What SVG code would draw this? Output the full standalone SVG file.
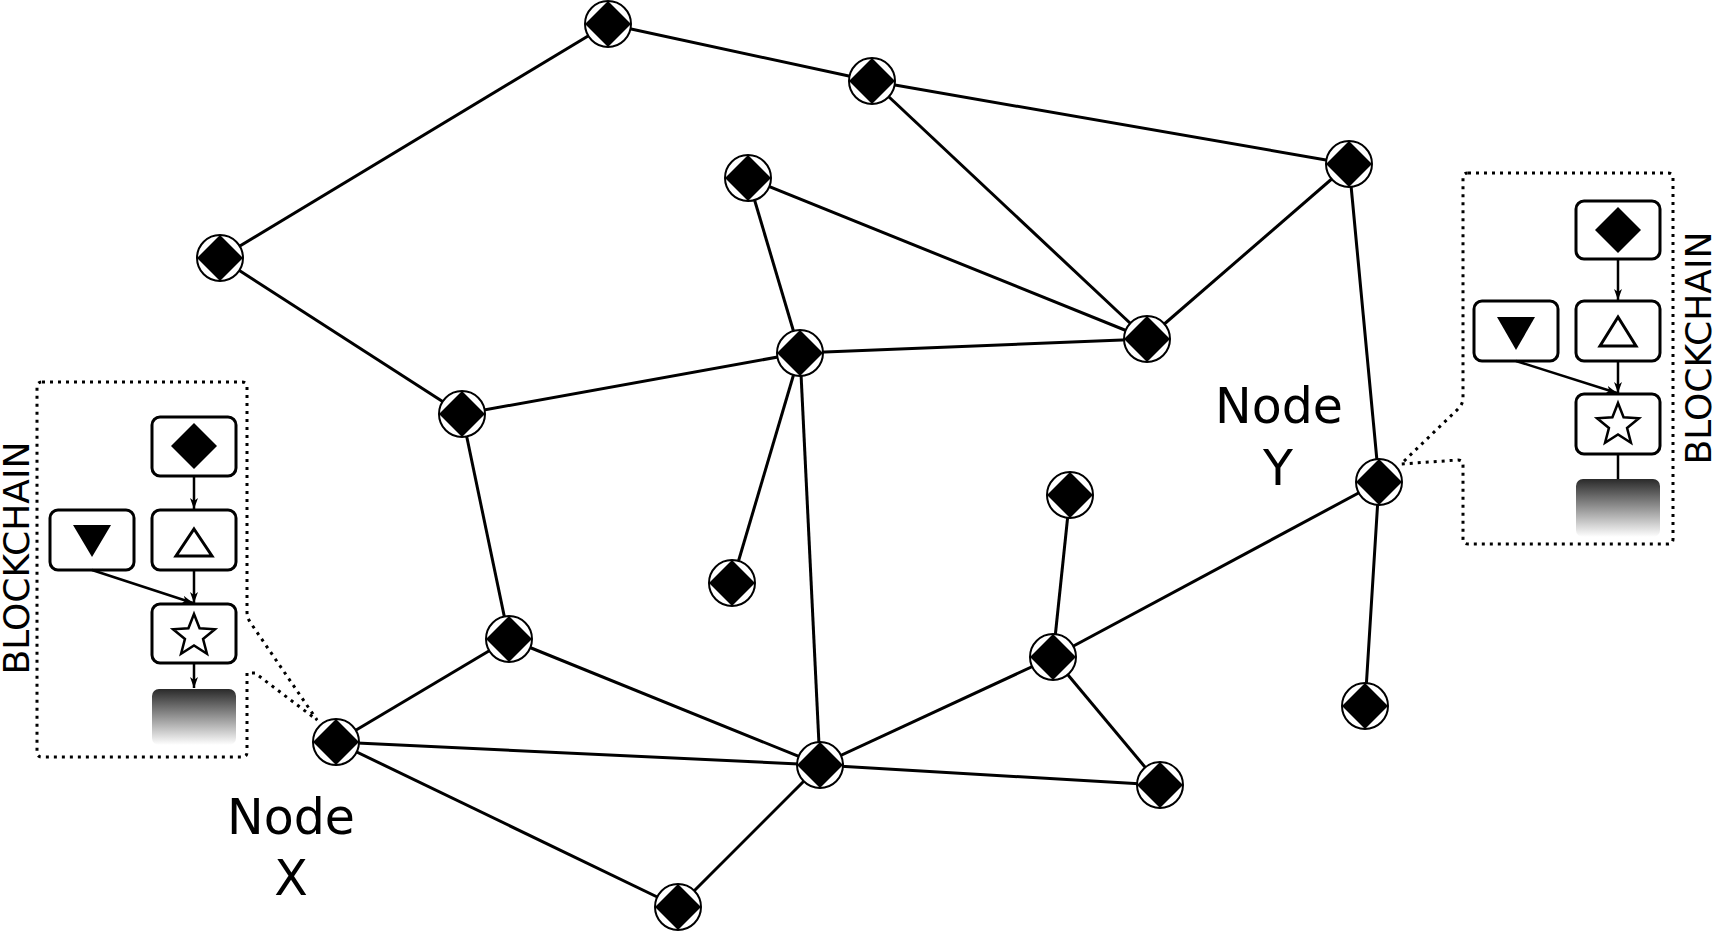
<svg xmlns="http://www.w3.org/2000/svg" xmlns:xlink="http://www.w3.org/1999/xlink" width="1714" height="934" viewBox="0 0 1714 934">
<style>
.edge{stroke:#000;stroke-width:3;fill:none}
.dot{stroke:#000;stroke-width:3;fill:none;stroke-dasharray:3 5}
.box{fill:#fff;stroke:#000;stroke-width:3}
.conn{stroke:#000;stroke-width:2.5;fill:none}
.lbl{font-family:"DejaVu Sans",sans-serif;font-size:49px;fill:#000;text-anchor:middle}
.bc{font-family:"DejaVu Sans",sans-serif;font-size:36px;fill:#000;text-anchor:middle}
</style>
<defs>
<g id="nd"><circle r="23" fill="#fff" stroke="#000" stroke-width="2"/><path d="M0,-23 L23,0 L0,23 L-23,0 Z" fill="#000"/></g>
<path id="star" d="M0,-22 L5.58,-7.69 L20.92,-6.8 L9.04,2.94 L12.93,17.8 L0,9.5 L-12.93,17.8 L-9.04,2.94 L-20.92,-6.8 L-5.58,-7.69 Z" fill="#fff" stroke="#000" stroke-width="2.5" stroke-linejoin="miter"/>
<linearGradient id="grad" x1="0" y1="0" x2="0" y2="1"><stop offset="0" stop-color="#2a2a2a"/><stop offset="1" stop-color="#fff"/></linearGradient>
<marker id="ah" markerWidth="11" markerHeight="8" refX="11" refY="4" orient="auto" markerUnits="userSpaceOnUse"><path d="M0,0 L11,4 L0,8 L3,4 Z" fill="#000"/></marker>
</defs>
<rect width="1714" height="934" fill="#fff"/>
<g id="connectors">
<line class="edge" x1="608" y1="24" x2="872" y2="81"/>
<line class="edge" x1="608" y1="24" x2="220" y2="258"/>
<line class="edge" x1="872" y1="81" x2="1349" y2="164"/>
<line class="edge" x1="872" y1="81" x2="1147" y2="339"/>
<line class="edge" x1="1349" y1="164" x2="1147" y2="339"/>
<line class="edge" x1="1349" y1="164" x2="1379" y2="482"/>
<line class="edge" x1="748" y1="178" x2="1147" y2="339"/>
<line class="edge" x1="748" y1="178" x2="800" y2="353"/>
<line class="edge" x1="220" y1="258" x2="462" y2="414"/>
<line class="edge" x1="800" y1="353" x2="1147" y2="339"/>
<line class="edge" x1="800" y1="353" x2="462" y2="414"/>
<line class="edge" x1="800" y1="353" x2="732" y2="583"/>
<line class="edge" x1="800" y1="353" x2="820" y2="765"/>
<line class="edge" x1="462" y1="414" x2="509" y2="639"/>
<line class="edge" x1="509" y1="639" x2="336" y2="742"/>
<line class="edge" x1="509" y1="639" x2="820" y2="765"/>
<line class="edge" x1="336" y1="742" x2="820" y2="765"/>
<line class="edge" x1="336" y1="742" x2="678" y2="907"/>
<line class="edge" x1="820" y1="765" x2="678" y2="907"/>
<line class="edge" x1="820" y1="765" x2="1053" y2="657"/>
<line class="edge" x1="820" y1="765" x2="1160" y2="785"/>
<line class="edge" x1="1053" y1="657" x2="1070" y2="495"/>
<line class="edge" x1="1053" y1="657" x2="1379" y2="482"/>
<line class="edge" x1="1053" y1="657" x2="1160" y2="785"/>
<line class="edge" x1="1379" y1="482" x2="1365" y2="706"/>
</g>
<g id="node1" transform="translate(608,24)"><use href="#nd"/></g>
<g id="node2" transform="translate(872,81)"><use href="#nd"/></g>
<g id="node3" transform="translate(1349,164)"><use href="#nd"/></g>
<g id="node4" transform="translate(748,178)"><use href="#nd"/></g>
<g id="node5" transform="translate(220,258)"><use href="#nd"/></g>
<g id="node6" transform="translate(1147,339)"><use href="#nd"/></g>
<g id="node7" transform="translate(800,353)"><use href="#nd"/></g>
<g id="node8" transform="translate(462,414)"><use href="#nd"/></g>
<g id="nodeY" transform="translate(1379,482)"><use href="#nd"/></g>
<g id="node10" transform="translate(1070,495)"><use href="#nd"/></g>
<g id="node11" transform="translate(732,583)"><use href="#nd"/></g>
<g id="node12" transform="translate(509,639)"><use href="#nd"/></g>
<g id="node13" transform="translate(1053,657)"><use href="#nd"/></g>
<g id="nodeX" transform="translate(336,742)"><use href="#nd"/></g>
<g id="node15" transform="translate(1365,706)"><use href="#nd"/></g>
<g id="node16" transform="translate(820,765)"><use href="#nd"/></g>
<g id="node17" transform="translate(1160,785)"><use href="#nd"/></g>
<g id="node18" transform="translate(678,907)"><use href="#nd"/></g>
<g id="labelX">
<text class="lbl" x="291" y="834">Node</text>
<text class="lbl" x="291" y="895">X</text>
</g>
<g id="labelY">
<text class="lbl" x="1279" y="423">Node</text>
<text class="lbl" x="1278" y="485">Y</text>
</g>
<g id="blockchainX">
<path class="dot" d="M42,382 L242,382 Q247,382 247,387 L247,612 Q247,617 250,622 L317,720 L255,673 L247,673 L247,752 Q247,757 242,757 L42,757 Q37,757 37,752 L37,387 Q37,382 42,382 Z"/>
<text class="bc" transform="translate(29,558) rotate(-90)">BLOCKCHAIN</text>
<rect class="box" x="152" y="417" width="84" height="59" rx="8"/>
<path d="M194,423 L217,446 L194,469 L171,446 Z" fill="#000"/>
<rect class="box" x="50" y="510" width="84" height="60" rx="8"/>
<path d="M73,525 L111,525 L92,557 Z" fill="#000"/>
<rect class="box" x="152" y="510" width="84" height="60" rx="8"/>
<path d="M194,529 L212,556 L176,556 Z" fill="#fff" stroke="#000" stroke-width="3"/>
<rect class="box" x="152" y="604" width="84" height="59" rx="8"/>
<use href="#star" transform="translate(194,636)"/>
<rect x="152" y="689" width="84" height="56" rx="7" fill="url(#grad)"/>
<line class="conn" x1="194" y1="476" x2="194" y2="509" marker-end="url(#ah)"/>
<line class="conn" x1="194" y1="570" x2="194" y2="603" marker-end="url(#ah)"/>
<line class="conn" x1="92" y1="570" x2="193" y2="603" marker-end="url(#ah)"/>
<line class="conn" x1="194" y1="663" x2="194" y2="688" marker-end="url(#ah)"/>
</g>
<g id="blockchainY">
<path class="dot" d="M1468,173 L1668,173 Q1673,173 1673,178 L1673,539 Q1673,544 1668,544 L1468,544 Q1463,544 1463,539 L1463,465 Q1463,460 1458,460 L1401,464 L1458,409 Q1463,404 1463,398 L1463,178 Q1463,173 1468,173 Z"/>
<text class="bc" transform="translate(1711,348) rotate(-90)">BLOCKCHAIN</text>
<rect class="box" x="1576" y="201" width="84" height="58" rx="8"/>
<path d="M1618,207 L1641,230 L1618,253 L1595,230 Z" fill="#000"/>
<rect class="box" x="1474" y="301" width="84" height="60" rx="8"/>
<path d="M1497,317 L1535,317 L1516,350 Z" fill="#000"/>
<rect class="box" x="1576" y="301" width="84" height="60" rx="8"/>
<path d="M1618,317 L1636,346 L1600,346 Z" fill="#fff" stroke="#000" stroke-width="3"/>
<rect class="box" x="1576" y="394" width="84" height="60" rx="8"/>
<use href="#star" transform="translate(1618,425)"/>
<rect x="1576" y="479" width="84" height="58" rx="7" fill="url(#grad)"/>
<line class="conn" x1="1618" y1="259" x2="1618" y2="300" marker-end="url(#ah)"/>
<line class="conn" x1="1618" y1="361" x2="1618" y2="393" marker-end="url(#ah)"/>
<line class="conn" x1="1516" y1="361" x2="1617" y2="393" marker-end="url(#ah)"/>
<line class="conn" x1="1618" y1="454" x2="1618" y2="479"/>
</g>
</svg>
